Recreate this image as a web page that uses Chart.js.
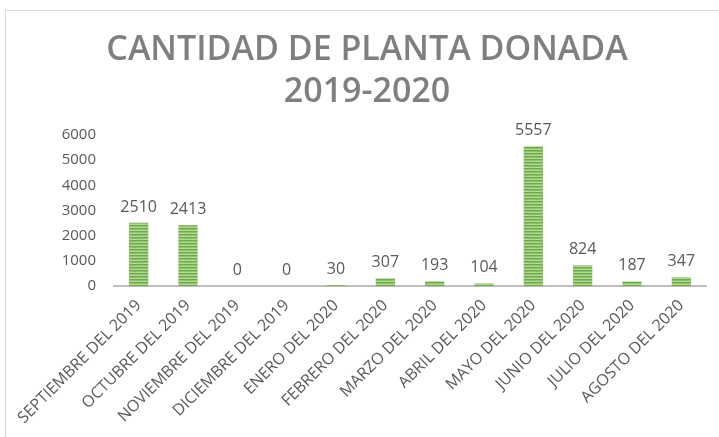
<!DOCTYPE html>
<html>
<head>
<meta charset="utf-8">
<script src="https://cdn.jsdelivr.net/npm/chart.js@4"></script>
<style>
  body { margin: 0; background: #fff; }
  #wrap { position: relative; width: 719px; height: 437px; }
  #frame {
    position: absolute; left: 5px; top: 10px; right: 0; bottom: 0;
    border-top: 1px solid #d9d9d9; border-left: 1px solid #d9d9d9;
    pointer-events: none;
  }
</style>
</head>
<body>
<div id="wrap">
  <canvas id="chart" width="719" height="437"></canvas>
  <div id="frame"></div>
</div>
<script>
const months = [
  "SEPTIEMBRE DEL 2019", "OCTUBRE DEL 2019", "NOVIEMBRE DEL 2019",
  "DICIEMBRE DEL 2019", "ENERO DEL 2020", "FEBRERO DEL 2020",
  "MARZO DEL 2020", "ABRIL DEL 2020", "MAYO DEL 2020",
  "JUNIO DEL 2020", "JULIO DEL 2020", "AGOSTO DEL 2020",
];
const plantas = [2510, 2413, 0, 0, 30, 307, 193, 104, 5557, 824, 187, 347];
const yTicks = [0, 1000, 2000, 3000, 4000, 5000, 6000];

// horizontal striped green fill
function stripes() {
  const c = document.createElement("canvas");
  c.width = 4;
  c.height = 3;
  const g = c.getContext("2d");
  g.fillStyle = "#6eaa45"; g.fillRect(0, 0, 4, 1);
  g.fillStyle = "#8cc36a"; g.fillRect(0, 1, 4, 1);
  g.fillStyle = "#b3d89a"; g.fillRect(0, 2, 4, 1);
  return g.createPattern(c, "repeat");
}

const valueLabels = {
  id: "valueLabels",
  afterDatasetsDraw(chart) {
    const ctx = chart.ctx;
    const meta = chart.getDatasetMeta(0);
    ctx.save();
    ctx.font = "16px 'Open Sans'";
    ctx.fillStyle = "#595959";
    ctx.textAlign = "center";
    ctx.textBaseline = "alphabetic";
    meta.data.forEach((bar, i) => {
      ctx.fillText(String(plantas[i]), bar.x, bar.y - 11);
    });
    ctx.restore();
  },
};

const chart = new Chart(document.getElementById("chart"), {
  type: "bar",
  data: {
    labels: months,
    datasets: [{
      data: plantas,
      backgroundColor: stripes(),
      barPercentage: 0.39,
      categoryPercentage: 1,
    }],
  },
  options: {
    responsive: false,
    animation: false,
    layout: {
      padding: { top: 0, left: 28, right: 13, bottom: 0 },
    },
    plugins: {
      legend: { display: false },
      tooltip: { enabled: false },
      title: {
        display: true,
        text: ["CANTIDAD DE PLANTA DONADA", "2019-2020"],
        color: "#7f7f7f",
        font: { family: "'Open Sans'", size: 34, weight: 600, lineHeight: "42px" },
        padding: { top: 29, bottom: 22 },
      },
    },
    scales: {
      x: {
        afterFit: (s) => { s.height = 151; },
        grid: { display: false },
        border: { display: true, color: "#bfbfbf", width: 2 },
        ticks: {
          color: "#595959",
          font: { family: "'Open Sans'", size: 16 },
          maxRotation: 45,
          minRotation: 45,
          padding: 2,
        },
      },
      y: {
        min: 0,
        max: 6000,
        afterFit: (s) => { s.width = 86; },
        afterBuildTicks: (s) => { s.ticks = yTicks.map((v) => ({ value: v })); },
        grid: { display: false },
        border: { display: false },
        ticks: {
          color: "#595959",
          font: { family: "'Open Sans'", size: 15 },
          padding: 10,
          callback: (v) => String(v),
        },
      },
    },
  },
  plugins: [valueLabels],
});
</script>
</body>
</html>
